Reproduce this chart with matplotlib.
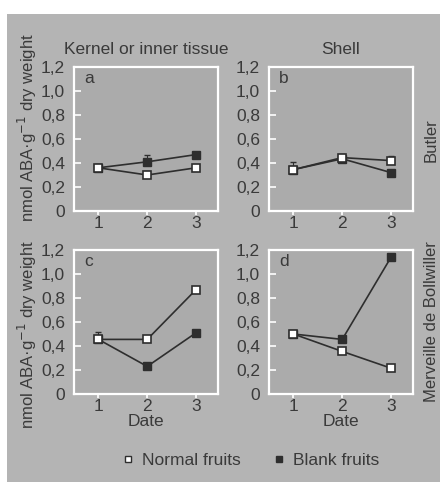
import matplotlib
matplotlib.use('Agg')
import matplotlib.pyplot as plt
from matplotlib.patches import Rectangle
from matplotlib.lines import Line2D

plt.rcParams['font.family'] = ['Liberation Sans', 'DejaVu Sans']

dates = [1, 2, 3]
panel_letters = ['a', 'b', 'c', 'd']
col_titles = ['Kernel or inner tissue', 'Shell']
row_labels = ['Butler', 'Merveille de Bollwiller']
yticks = [0, 0.2, 0.4, 0.6, 0.8, 1.0, 1.2]
ytick_labels = ['0', '0,2', '0,4', '0,6', '0,8', '1,0', '1,2']

normal_a = [0.36, 0.30, 0.36]
blank_a = [0.36, 0.41, 0.47]
normal_b = [0.345, 0.445, 0.42]
blank_b = [0.345, 0.435, 0.32]
normal_c = [0.455, 0.455, 0.87]
blank_c = [0.455, 0.23, 0.51]
normal_d = [0.50, 0.355, 0.215]
blank_d = [0.50, 0.455, 1.14]

# upper error bars only
err_normal_a = [0.03, 0.03, 0.0]
err_blank_a = [0.0, 0.06, 0.0]
err_normal_b = [0.06, 0.0, 0.04]
err_blank_b = [0.0, 0.04, 0.0]
err_normal_c = [0.06, 0.0, 0.0]
err_blank_c = [0.0, 0.0, 0.0]
err_normal_d = [0.0, 0.0, 0.0]
err_blank_d = [0.0, 0.0, 0.0]

normals = [normal_a, normal_b, normal_c, normal_d]
blanks = [blank_a, blank_b, blank_c, blank_d]
err_normals = [err_normal_a, err_normal_b, err_normal_c, err_normal_d]
err_blanks = [err_blank_a, err_blank_b, err_blank_c, err_blank_d]

W, H = 440, 482
bg = '#b4b4b4'
face = '#ababab'
ink = '#2e2e2e'
txt = '#3a3a3a'
fs = 12.5

fig = plt.figure(figsize=(W / 100, H / 100), dpi=100)
fig.patch.set_facecolor('white')
fig.add_artist(Rectangle((7 / W, 0), 1, 1 - 14 / H, transform=fig.transFigure,
                         facecolor=bg, edgecolor='none', zorder=-10))

lefts = [74, 269, 74, 269]
tops = [67, 67, 250, 250]
axes = []
for i in range(4):
    ax = fig.add_axes([lefts[i] / W, 1 - (tops[i] + 144) / H, 144 / W, 144 / H])
    ax.set_facecolor(face)
    for s in ax.spines.values():
        s.set_color('white')
        s.set_linewidth(1.6)
    ax.set_xlim(0.5, 3.45)
    ax.set_ylim(0, 1.2)
    ax.set_yticks(yticks)
    ax.set_yticklabels(ytick_labels)
    ax.set_xticks(dates)
    ax.set_xticklabels([str(d) for d in dates])
    ax.tick_params(axis='y', direction='in', length=5, width=1.2, color='white',
                   labelsize=fs, labelcolor=txt, pad=6.5)
    ax.tick_params(axis='x', direction='out', length=3, width=1.2, color='white',
                   labelsize=fs, labelcolor=txt, pad=0.5)

    ax.errorbar(dates, blanks[i], yerr=[[0, 0, 0], err_blanks[i]], fmt='none',
                ecolor=ink, elinewidth=0.8, capsize=2, zorder=2)
    ax.errorbar(dates, normals[i], yerr=[[0, 0, 0], err_normals[i]], fmt='none',
                ecolor=ink, elinewidth=0.8, capsize=2, zorder=2)
    ax.plot(dates, blanks[i], color=ink, lw=1.2, marker='s', ms=5.5,
            mfc=ink, mec=ink, zorder=3)
    ax.plot(dates, normals[i], color=ink, lw=1.2, marker='s', ms=5.5,
            mfc='white', mec=ink, mew=1.2, zorder=4)
    ax.text(0.07, 0.92, panel_letters[i], transform=ax.transAxes, fontsize=fs,
            color=txt, ha='left', va='center')
    axes.append(ax)

axes[0].set_title(col_titles[0], fontsize=fs, color=txt, pad=9)
axes[1].set_title(col_titles[1], fontsize=fs, color=txt, pad=9)
axes[2].set_xlabel('Date', fontsize=fs, color=txt, labelpad=0)
axes[3].set_xlabel('Date', fontsize=fs, color=txt, labelpad=0)

ylab = 'nmol ABA\u00b7g$^{-1}$ dry weight'
fig.text(27 / W, 1 - 128 / H, ylab, rotation=90, ha='center', va='center',
         fontsize=12, color=txt)
fig.text(27 / W, 1 - 335 / H, ylab, rotation=90, ha='center', va='center',
         fontsize=12, color=txt)
fig.text(431 / W, 1 - 140 / H, row_labels[0], rotation=90, ha='center', va='center',
         fontsize=12, color=txt)
fig.text(431 / W, 1 - 322 / H, row_labels[1], rotation=90, ha='center', va='center',
         fontsize=12, color=txt)

handles = [
    Line2D([], [], ls='none', marker='s', ms=5, mfc='white', mec=ink, mew=1.0),
    Line2D([], [], ls='none', marker='s', ms=5, mfc=ink, mec=ink),
]
leg = fig.legend(handles, ['Normal fruits', 'Blank fruits'], loc='center',
                 bbox_to_anchor=(250 / W, 1 - 460 / H), ncol=2, frameon=False,
                 fontsize=fs, handlelength=0.8, handletextpad=0.4, columnspacing=1.8)
for t in leg.get_texts():
    t.set_color(txt)

fig.savefig('out.png', dpi=100, facecolor=fig.get_facecolor())
